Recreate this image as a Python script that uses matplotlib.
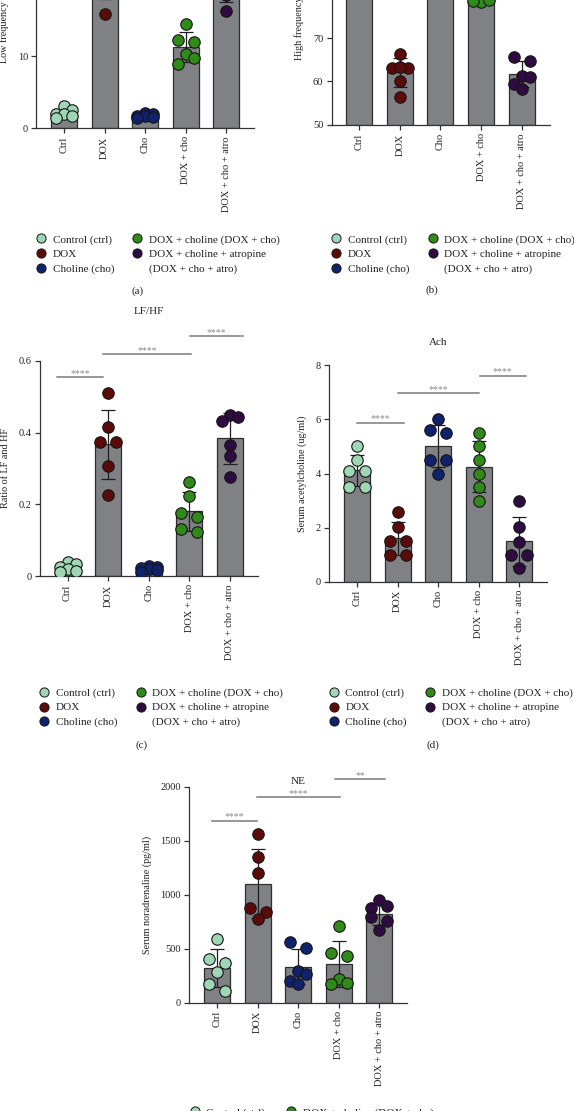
import numpy as np
import matplotlib
matplotlib.use("Agg")
import matplotlib.pyplot as plt
from matplotlib.lines import Line2D

plt.rcParams['font.family'] = ['Liberation Serif', 'DejaVu Serif']

# ---------------- data ----------------
groups = ["Ctrl", "DOX", "Cho", "DOX + cho", "DOX + cho + atro"]
legend_labels = ["Control (ctrl)", "DOX", "Choline (cho)",
                 "DOX + choline (DOX + cho)", "DOX + choline + atropine",
                 "(DOX + cho + atro)"]
colors = ["#9fd6b6", "#5c0b0b", "#10226b", "#2f8a1a", "#2e0b40"]

lf_ctrl = [3.0, 2.5, 2.0, 1.9, 1.6, 1.4]
lf_dox = [15.8, 19.5, 21.0, 22.5, 24.0, 26.0]
lf_cho = [2.1, 1.9, 1.7, 1.6, 1.5, 1.4]
lf_doxcho = [14.5, 12.2, 12.0, 10.3, 9.7, 8.9]
lf_atro = [16.2, 18.5, 20.0, 21.5, 23.0, 25.0]

hf_ctrl = [82, 84, 85, 86, 87, 88]
hf_dox = [66.3, 63.2, 63.2, 63.3, 60.2, 56.5]
hf_cho = [81, 83, 85, 86, 87, 89]
hf_doxcho = [78.2, 78.5, 78.7, 80.5, 82, 84]
hf_atro = [65.6, 64.8, 61.3, 61.0, 59.4, 58.3]

ratio_ctrl = [0.038, 0.033, 0.025, 0.020, 0.015, 0.010]
ratio_dox = [0.510, 0.416, 0.373, 0.373, 0.307, 0.226]
ratio_cho = [0.028, 0.025, 0.022, 0.020, 0.016, 0.012]
ratio_doxcho = [0.263, 0.223, 0.175, 0.164, 0.132, 0.124]
ratio_atro = [0.449, 0.444, 0.433, 0.365, 0.335, 0.277]

ach_ctrl = [5.0, 4.5, 4.1, 4.1, 3.5, 3.5]
ach_dox = [2.59, 2.03, 1.5, 1.5, 0.99, 0.99]
ach_cho = [6.0, 5.6, 5.5, 4.5, 4.5, 4.0]
ach_doxcho = [5.5, 5.0, 4.5, 4.0, 3.5, 3.0]
ach_atro = [3.0, 2.03, 1.48, 0.99, 0.99, 0.49]

ne_ctrl = [587, 405, 365, 287, 173, 111]
ne_dox = [1559, 1352, 1204, 880, 843, 775]
ne_cho = [565, 503, 296, 262, 201, 170]
ne_doxcho = [713, 457, 432, 219, 179, 170]
ne_atro = [951, 898, 874, 796, 756, 673]

# significance annotations: (x start, x end, height, label)
sig_c = [(-0.26, 0.87, 0.556, "****"), (0.87, 3.05, 0.619, "****"), (3.02, 4.33, 0.669, "****")]
sig_d = [(0.0, 1.16, 5.88, "****"), (1.01, 3.01, 6.96, "****"), (3.02, 4.16, 7.62, "****")]
sig_e = [(-0.13, 0.99, 1685, "****"), (0.99, 3.03, 1902, "****"), (2.91, 4.14, 2068, "**")]

# ---------------- style ----------------
W, H = 574, 1111
fig = plt.figure(figsize=(W / 100, H / 100), dpi=100)
XLIM = (-0.68, 4.69)
SP = 40.6
BAR = "#808184"
EDGE = "#2e2e2e"
AX = "#333333"
TICK_FS = 7.5
LEG_FS = 8.0


def make_ax(c0, y_bottom, height_px):
    left = c0 + XLIM[0] * SP
    width = (XLIM[1] - XLIM[0]) * SP
    return fig.add_axes([left / W, 1 - y_bottom / H, width / W, height_px / H])


def swarm_offsets(vals, py):
    """Prism-like row arrangement; returns x offsets (group units)."""
    vals = np.asarray(vals, float)
    order = np.argsort(-vals)
    offs = np.zeros(len(vals))
    rows = []
    cur = []
    for i in order:
        if cur and ((vals[cur[0]] - vals[i]) * py > 10.5 or len(cur) >= 3):
            rows.append(cur)
            cur = []
        cur.append(i)
    if cur:
        rows.append(cur)
    pattern = {1: [0], 2: [-1, 1], 3: [0, 1, -1]}
    for r in rows:
        for k, i in enumerate(r):
            offs[i] = pattern[len(r)][k] * 8.0 / SP
    return offs


def panel(ax, data, ylim, yticks, yticklabels, ylabel, height_px):
    ax.set_xlim(XLIM)
    ax.set_ylim(ylim)
    x = np.arange(len(groups))
    means = np.array([np.mean(v) for v in data])
    sds = np.array([np.std(v, ddof=1) for v in data])
    ax.bar(x, means - ylim[0], bottom=ylim[0], width=0.64, color=BAR,
           edgecolor=EDGE, linewidth=0.9, zorder=1)
    ax.errorbar(x, means, yerr=sds, fmt="none", ecolor="#1e1e1e",
                elinewidth=0.9, capsize=5, capthick=0.9, zorder=2)
    py = height_px / (ylim[1] - ylim[0])
    for i, v in enumerate(data):
        offs = swarm_offsets(v, py)
        ax.scatter(x[i] + offs, v, s=68, color=colors[i], edgecolors="#151515",
                   linewidths=0.8, zorder=3)
    for s in ["top", "right"]:
        ax.spines[s].set_visible(False)
    for s in ["left", "bottom"]:
        ax.spines[s].set_color(AX)
        ax.spines[s].set_linewidth(0.9)
    ax.set_yticks(yticks)
    ax.set_yticklabels(yticklabels)
    ax.set_xticks(x)
    ax.set_xticklabels(groups, rotation=90)
    ax.tick_params(axis="both", direction="out", length=3.5, width=0.9,
                   color=AX, labelcolor="#222", labelsize=TICK_FS, pad=2.5)
    ax.set_ylabel(ylabel, fontsize=7.3, color="#222", labelpad=6)


def sig(ax, items):
    for x0, x1, y, lab in items:
        ax.plot([x0, x1], [y, y], color="#7a7a7a", lw=1.1, clip_on=False, zorder=4)
        ax.annotate(lab, xy=((x0 + x1) / 2, y), xytext=(0, 0.8),
                    textcoords="offset points", ha="center", va="baseline",
                    fontsize=7, color="#8a8a8a", annotation_clip=False)


def legend(x_px, y_px):
    handles = [Line2D([], [], linestyle="none", marker="o", markersize=6.6,
                      markerfacecolor=c, markeredgecolor="#151515",
                      markeredgewidth=0.7) for c in colors]
    handles.append(Line2D([], [], linestyle="none"))
    fig.legend(handles, legend_labels, ncol=2, loc="upper left",
               bbox_to_anchor=(x_px / W, 1 - y_px / H), frameon=False,
               fontsize=LEG_FS, handlelength=1.0, handletextpad=0.55,
               columnspacing=1.6, labelspacing=0.42, borderpad=0,
               borderaxespad=0, labelcolor="#222")


def title(ax, text, y_axes):
    ax.text(0.5, y_axes, text, transform=ax.transAxes, ha="center",
            va="center", fontsize=8, color="#222")


# (a) LF
ax_a = make_ax(64.0, 128, 216)
panel(ax_a, [lf_ctrl, lf_dox, lf_cho, lf_doxcho, lf_atro], (0, 30),
      [0, 10, 20, 30], ["0", "10", "20", "30"], "Low frequency (n.u.)", 216)

# (b) HF
ax_b = make_ax(359.2, 125, 217.5)
panel(ax_b, [hf_ctrl, hf_dox, hf_cho, hf_doxcho, hf_atro], (50, 100),
      [50, 60, 70, 80, 90, 100], ["50", "60", "70", "80", "90", "100"],
      "High frequency (n.u.)", 217.5)
ax_b.yaxis.set_label_coords(-0.125, 0.5)

# (c) LF/HF
ax_c = make_ax(67.5, 576, 215)
panel(ax_c, [ratio_ctrl, ratio_dox, ratio_cho, ratio_doxcho, ratio_atro], (0, 0.6),
      [0, 0.2, 0.4, 0.6], ["0", "0.2", "0.4", "0.6"], "Ratio of LF and HF", 215)
sig(ax_c, sig_c)
title(ax_c, "LF/HF", (576 - 311.7) / 215)

# (d) Ach
ax_d = make_ax(357.0, 581.7, 216.4)
panel(ax_d, [ach_ctrl, ach_dox, ach_cho, ach_doxcho, ach_atro], (0, 8),
      [0, 2, 4, 6, 8], ["0", "2", "4", "6", "8"], "Serum acetylcholine (ug/ml)", 216.4)
sig(ax_d, sig_d)
title(ax_d, "Ach", (581.7 - 342.7) / 216.4)

# (e) NE
ax_e = make_ax(217.0, 1002.7, 216)
panel(ax_e, [ne_ctrl, ne_dox, ne_cho, ne_doxcho, ne_atro], (0, 2000),
      [0, 500, 1000, 1500, 2000], ["0", "500", "1000", "1500", "2000"],
      "Serum noradrenaline (pg/ml)", 216)
sig(ax_e, sig_e)
title(ax_e, "NE", (1002.7 - 782) / 216)

# legends
legend(35.4, 234.5)
legend(330.7, 234.5)
legend(38.7, 688.0)
legend(328.0, 688.0)
legend(189.0, 1107.5)

# panel letters
for lab, xp, yp in [("(a)", 137.7, 290.7), ("(b)", 432, 290.5),
                    ("(c)", 141.7, 745), ("(d)", 433, 745)]:
    fig.text(xp / W, 1 - yp / H, lab, ha="center", va="center",
             fontsize=LEG_FS, color="#222")

fig.savefig("out.png", dpi=100)
